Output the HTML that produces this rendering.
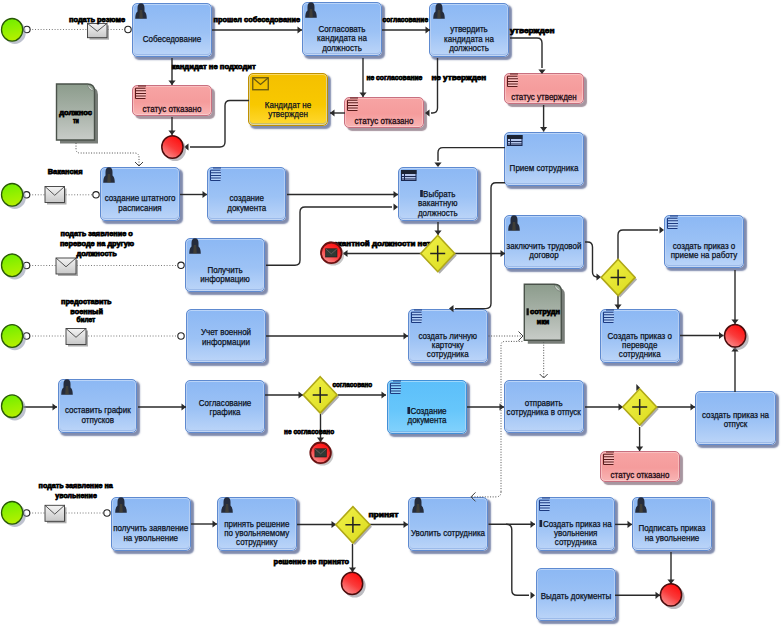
<!DOCTYPE html>
<html><head><meta charset="utf-8">
<style>
html,body{margin:0;padding:0;background:#fff;}
body{width:782px;height:630px;position:relative;overflow:hidden;font-family:"Liberation Sans",sans-serif;}
svg.main{position:absolute;left:0;top:0;}
.lbt{font-family:"Liberation Sans",sans-serif;font-size:7.5px;font-weight:bold;fill:#000;stroke:#000;stroke-width:0.75px;}
.t{position:absolute;box-sizing:border-box;border:1px solid #5e8ad0;border-radius:5px;
  box-shadow:inset 0 0 0 1px rgba(255,255,255,0.4), inset 0 -1px 0 1px rgba(100,140,210,0.35), 2.5px 2.5px 1.5px rgba(85,100,145,0.75);}
.t.b{background:linear-gradient(#8cb8f4 0%,#9cc2f5 55%,#bcd5f8 100%);}
.t.r{background:linear-gradient(#f7a4a4 0%,#f59c9c 55%,#f8b4b4 100%);border-color:#c87080;box-shadow:inset 0 0 0 1px rgba(255,255,255,0.3), 3px 3px 1px rgba(130,105,120,0.7);}
.t.r .tx{color:#200810;-webkit-text-stroke:0.3px #200810;}
.t.y{background:linear-gradient(#f4c000 0%,#f8c800 60%,#ffd830 100%);border-color:#c09000;}
.t.c{background:linear-gradient(#5cbffa 0%,#66c6fb 55%,#82d2fc 100%);border-color:#4090d8;}
.t .ic{position:absolute;}
.bx{display:inline-block;width:2.6px;height:7px;background:#1a2440;margin-right:0.8px;vertical-align:-0.5px;}
.tx{position:absolute;left:-10px;right:-10px;text-align:center;font-size:9px;line-height:9.4px;color:#0a1020;white-space:nowrap;transform:scaleX(0.89);-webkit-text-stroke:0.25px #0a1020;}
.lb{position:absolute;width:120px;text-align:center;font-size:7.5px;font-weight:bold;line-height:9.6px;color:#000;white-space:nowrap;transform:scaleX(0.87);-webkit-text-stroke:0.55px #000;}
</style></head><body>
<div class="t b" style="left:131.5px;top:2.7px;width:80px;height:54.5px"><svg class="ic" width="12" height="16" viewBox="0 0 12 16" style="left:2.5px;top:-1px"><path d="M2.5,5 Q2.5,0.3 6,0.3 Q9.5,0.3 9.5,5 L9.5,8.4 Q11.7,9.8 11.8,15.7 L0.2,15.7 Q0.3,9.8 2.5,8.4 Z" fill="#252c3c"/><path d="M4.8,7 H7.2 L7.8,15.5 H4.2 Z" fill="#6a5a30" opacity="0.4"/></svg><div class="tx" style="top:31.0px">Собеседование</div></div>
<div class="t b" style="left:301.7px;top:2.4px;width:80px;height:54px"><svg class="ic" width="12" height="16" viewBox="0 0 12 16" style="left:2.5px;top:-1px"><path d="M2.5,5 Q2.5,0.3 6,0.3 Q9.5,0.3 9.5,5 L9.5,8.4 Q11.7,9.8 11.8,15.7 L0.2,15.7 Q0.3,9.8 2.5,8.4 Z" fill="#252c3c"/><path d="M4.8,7 H7.2 L7.8,15.5 H4.2 Z" fill="#6a5a30" opacity="0.4"/></svg><div class="tx" style="top:21.6px">Согласовать<br>кандидата на<br>должность</div></div>
<div class="t b" style="left:429.3px;top:2.6px;width:80px;height:54px"><svg class="ic" width="12" height="16" viewBox="0 0 12 16" style="left:2.5px;top:-1px"><path d="M2.5,5 Q2.5,0.3 6,0.3 Q9.5,0.3 9.5,5 L9.5,8.4 Q11.7,9.8 11.8,15.7 L0.2,15.7 Q0.3,9.8 2.5,8.4 Z" fill="#252c3c"/><path d="M4.8,7 H7.2 L7.8,15.5 H4.2 Z" fill="#6a5a30" opacity="0.4"/></svg><div class="tx" style="top:21.6px">утвердить<br>кандидата на<br>должность</div></div>
<div class="t r" style="left:504.2px;top:73.3px;width:80px;height:31px"><svg class="ic" width="15" height="15" viewBox="0 0 15 15" style="left:0px;top:-1px"><path d="M2.5,3 H12.5 Q13.5,8 12.5,13.6 H2.5 Z" fill="#ffffff" fill-opacity="0.3"/><path d="M5,1 H13 M2.5,3.2 H12.5 M2.5,5.8 H13 M2.5,8.4 H13 M2.5,11 H12.8 M2.5,13.5 H12.5 M2.5,3.2 V13.5" fill="none" stroke="#5a1a1a" stroke-width="1.05"/></svg><div class="tx" style="top:19.0px">статус утвержден</div></div>
<div class="t r" style="left:131.6px;top:85.0px;width:80px;height:31px"><svg class="ic" width="15" height="15" viewBox="0 0 15 15" style="left:0px;top:-1px"><path d="M2.5,3 H12.5 Q13.5,8 12.5,13.6 H2.5 Z" fill="#ffffff" fill-opacity="0.3"/><path d="M5,1 H13 M2.5,3.2 H12.5 M2.5,5.8 H13 M2.5,8.4 H13 M2.5,11 H12.8 M2.5,13.5 H12.5 M2.5,3.2 V13.5" fill="none" stroke="#5a1a1a" stroke-width="1.05"/></svg><div class="tx" style="top:19.0px">статус отказано</div></div>
<div class="t y" style="left:248.3px;top:73.3px;width:80px;height:53px"><svg class="ic" width="17" height="14" viewBox="0 0 17 14" style="left:3px;top:3px"><rect x="0.75" y="0.75" width="15.5" height="12" fill="none" stroke="#6a5a10" stroke-width="1.3"/><path d="M1,1 L8.5,7.5 L16,1" fill="none" stroke="#6a5a10" stroke-width="1.3"/></svg><div class="tx" style="top:26.3px">Кандидат не<br>утвержден</div></div>
<div class="t r" style="left:344.3px;top:96.5px;width:80px;height:31px"><svg class="ic" width="15" height="15" viewBox="0 0 15 15" style="left:0px;top:-1px"><path d="M2.5,3 H12.5 Q13.5,8 12.5,13.6 H2.5 Z" fill="#ffffff" fill-opacity="0.3"/><path d="M5,1 H13 M2.5,3.2 H12.5 M2.5,5.8 H13 M2.5,8.4 H13 M2.5,11 H12.8 M2.5,13.5 H12.5 M2.5,3.2 V13.5" fill="none" stroke="#5a1a1a" stroke-width="1.05"/></svg><div class="tx" style="top:19.0px">статус отказано</div></div>
<div class="t b" style="left:99.6px;top:167.0px;width:80px;height:54px"><svg class="ic" width="12" height="16" viewBox="0 0 12 16" style="left:2.5px;top:-1px"><path d="M2.5,5 Q2.5,0.3 6,0.3 Q9.5,0.3 9.5,5 L9.5,8.4 Q11.7,9.8 11.8,15.7 L0.2,15.7 Q0.3,9.8 2.5,8.4 Z" fill="#252c3c"/><path d="M4.8,7 H7.2 L7.8,15.5 H4.2 Z" fill="#6a5a30" opacity="0.4"/></svg><div class="tx" style="top:26.3px">создание штатного<br>расписания</div></div>
<div class="t b" style="left:206.6px;top:167.0px;width:79.5px;height:53.5px"><svg class="ic" width="15" height="15" viewBox="0 0 15 15" style="left:0px;top:-1px"><path d="M2.5,3 H12.5 Q13.5,8 12.5,13.6 H2.5 Z" fill="#ffffff" fill-opacity="0.3"/><path d="M5,1 H13 M2.5,3.2 H12.5 M2.5,5.8 H13 M2.5,8.4 H13 M2.5,11 H12.8 M2.5,13.5 H12.5 M2.5,3.2 V13.5" fill="none" stroke="#1c3a80" stroke-width="1.05"/></svg><div class="tx" style="top:26.3px">создание<br>документа</div></div>
<div class="t b" style="left:398.2px;top:167.2px;width:79.5px;height:54px"><svg class="ic" width="16" height="12" viewBox="0 0 16 12" style="left:2px;top:2px"><rect x="0.5" y="0.5" width="14.5" height="10" fill="#b4c6ec" stroke="#1a2850" stroke-width="1"/><rect x="0" y="0" width="15.5" height="4" fill="#1c2434"/><path d="M0.5,6.5 H15 M0.5,9 H15 M3.5,4 V10.5" stroke="#1a2850" stroke-width="1"/></svg><div class="tx" style="top:21.6px"><i class="bx"></i>Выбрать<br>вакантную<br>должность</div></div>
<div class="t b" style="left:504.2px;top:132.0px;width:80px;height:53.5px"><svg class="ic" width="16" height="12" viewBox="0 0 16 12" style="left:2px;top:2px"><rect x="0.5" y="0.5" width="14.5" height="10" fill="#b4c6ec" stroke="#1a2850" stroke-width="1"/><rect x="0" y="0" width="15.5" height="4" fill="#1c2434"/><path d="M0.5,6.5 H15 M0.5,9 H15 M3.5,4 V10.5" stroke="#1a2850" stroke-width="1"/></svg><div class="tx" style="top:31.0px">Прием сотрудника</div></div>
<div class="t b" style="left:504.2px;top:214.7px;width:80px;height:54px"><svg class="ic" width="12" height="16" viewBox="0 0 12 16" style="left:2.5px;top:-1px"><path d="M2.5,5 Q2.5,0.3 6,0.3 Q9.5,0.3 9.5,5 L9.5,8.4 Q11.7,9.8 11.8,15.7 L0.2,15.7 Q0.3,9.8 2.5,8.4 Z" fill="#252c3c"/><path d="M4.8,7 H7.2 L7.8,15.5 H4.2 Z" fill="#6a5a30" opacity="0.4"/></svg><div class="tx" style="top:26.3px">заключить трудовой<br>договор</div></div>
<div class="t b" style="left:663.7px;top:214.7px;width:80px;height:53.5px"><svg class="ic" width="15" height="15" viewBox="0 0 15 15" style="left:0px;top:-1px"><path d="M2.5,3 H12.5 Q13.5,8 12.5,13.6 H2.5 Z" fill="#ffffff" fill-opacity="0.3"/><path d="M5,1 H13 M2.5,3.2 H12.5 M2.5,5.8 H13 M2.5,8.4 H13 M2.5,11 H12.8 M2.5,13.5 H12.5 M2.5,3.2 V13.5" fill="none" stroke="#1c3a80" stroke-width="1.05"/></svg><div class="tx" style="top:26.3px">создать приказ о<br>приеме на работу</div></div>
<div class="t b" style="left:185.2px;top:238.4px;width:80px;height:53.5px"><svg class="ic" width="12" height="16" viewBox="0 0 12 16" style="left:2.5px;top:-1px"><path d="M2.5,5 Q2.5,0.3 6,0.3 Q9.5,0.3 9.5,5 L9.5,8.4 Q11.7,9.8 11.8,15.7 L0.2,15.7 Q0.3,9.8 2.5,8.4 Z" fill="#252c3c"/><path d="M4.8,7 H7.2 L7.8,15.5 H4.2 Z" fill="#6a5a30" opacity="0.4"/></svg><div class="tx" style="top:26.3px">Получить<br>информацию</div></div>
<div class="t b" style="left:185.7px;top:309.2px;width:80px;height:53.5px"><div class="tx" style="top:18.0px">Учет военной<br>информации</div></div>
<div class="t b" style="left:408.2px;top:309.0px;width:79.5px;height:53.5px"><svg class="ic" width="15" height="15" viewBox="0 0 15 15" style="left:0px;top:-1px"><path d="M2.5,3 H12.5 Q13.5,8 12.5,13.6 H2.5 Z" fill="#ffffff" fill-opacity="0.3"/><path d="M5,1 H13 M2.5,3.2 H12.5 M2.5,5.8 H13 M2.5,8.4 H13 M2.5,11 H12.8 M2.5,13.5 H12.5 M2.5,3.2 V13.5" fill="none" stroke="#1c3a80" stroke-width="1.05"/></svg><div class="tx" style="top:21.6px">создать личную<br>карточку<br>сотрудника</div></div>
<div class="t b" style="left:600.0px;top:309.0px;width:79.5px;height:53.5px"><svg class="ic" width="15" height="15" viewBox="0 0 15 15" style="left:0px;top:-1px"><path d="M2.5,3 H12.5 Q13.5,8 12.5,13.6 H2.5 Z" fill="#ffffff" fill-opacity="0.3"/><path d="M5,1 H13 M2.5,3.2 H12.5 M2.5,5.8 H13 M2.5,8.4 H13 M2.5,11 H12.8 M2.5,13.5 H12.5 M2.5,3.2 V13.5" fill="none" stroke="#1c3a80" stroke-width="1.05"/></svg><div class="tx" style="top:21.6px">Создать приказ о<br>переводе<br>сотрудника</div></div>
<div class="t b" style="left:57.7px;top:379.2px;width:79.6px;height:54px"><svg class="ic" width="12" height="16" viewBox="0 0 12 16" style="left:2.5px;top:-1px"><path d="M2.5,5 Q2.5,0.3 6,0.3 Q9.5,0.3 9.5,5 L9.5,8.4 Q11.7,9.8 11.8,15.7 L0.2,15.7 Q0.3,9.8 2.5,8.4 Z" fill="#252c3c"/><path d="M4.8,7 H7.2 L7.8,15.5 H4.2 Z" fill="#6a5a30" opacity="0.4"/></svg><div class="tx" style="top:26.3px">составить график<br>отпусков</div></div>
<div class="t b" style="left:185.2px;top:379.7px;width:80px;height:53.5px"><div class="tx" style="top:18.0px">Согласование<br>графика</div></div>
<div class="t c" style="left:387.4px;top:379.6px;width:80px;height:54px"><svg class="ic" width="15" height="15" viewBox="0 0 15 15" style="left:0px;top:-1px"><path d="M2.5,3 H12.5 Q13.5,8 12.5,13.6 H2.5 Z" fill="#ffffff" fill-opacity="0.3"/><path d="M5,1 H13 M2.5,3.2 H12.5 M2.5,5.8 H13 M2.5,8.4 H13 M2.5,11 H12.8 M2.5,13.5 H12.5 M2.5,3.2 V13.5" fill="none" stroke="#1c3a80" stroke-width="1.05"/></svg><div class="tx" style="top:26.3px"><i class="bx"></i>Создание<br>документа</div></div>
<div class="t b" style="left:504.0px;top:379.7px;width:79.5px;height:53.5px"><div class="tx" style="top:18.0px">отправить<br>сотрудника в отпуск</div></div>
<div class="t b" style="left:694.8px;top:391.3px;width:81px;height:54px"><div class="tx" style="top:18.3px">создать приказ на<br>отпуск</div></div>
<div class="t r" style="left:599.9px;top:450.5px;width:80px;height:31px"><svg class="ic" width="15" height="15" viewBox="0 0 15 15" style="left:0px;top:-1px"><path d="M2.5,3 H12.5 Q13.5,8 12.5,13.6 H2.5 Z" fill="#ffffff" fill-opacity="0.3"/><path d="M5,1 H13 M2.5,3.2 H12.5 M2.5,5.8 H13 M2.5,8.4 H13 M2.5,11 H12.8 M2.5,13.5 H12.5 M2.5,3.2 V13.5" fill="none" stroke="#5a1a1a" stroke-width="1.05"/></svg><div class="tx" style="top:19.0px">статус отказано</div></div>
<div class="t b" style="left:111.2px;top:497.0px;width:79.5px;height:53.7px"><svg class="ic" width="12" height="16" viewBox="0 0 12 16" style="left:2.5px;top:-1px"><path d="M2.5,5 Q2.5,0.3 6,0.3 Q9.5,0.3 9.5,5 L9.5,8.4 Q11.7,9.8 11.8,15.7 L0.2,15.7 Q0.3,9.8 2.5,8.4 Z" fill="#252c3c"/><path d="M4.8,7 H7.2 L7.8,15.5 H4.2 Z" fill="#6a5a30" opacity="0.4"/></svg><div class="tx" style="top:26.3px">получить заявление<br>на увольнение</div></div>
<div class="t b" style="left:217.2px;top:497.0px;width:79.5px;height:53.7px"><svg class="ic" width="12" height="16" viewBox="0 0 12 16" style="left:2.5px;top:-1px"><path d="M2.5,5 Q2.5,0.3 6,0.3 Q9.5,0.3 9.5,5 L9.5,8.4 Q11.7,9.8 11.8,15.7 L0.2,15.7 Q0.3,9.8 2.5,8.4 Z" fill="#252c3c"/><path d="M4.8,7 H7.2 L7.8,15.5 H4.2 Z" fill="#6a5a30" opacity="0.4"/></svg><div class="tx" style="top:21.6px">принять решение<br>по увольняемому<br>сотруднику</div></div>
<div class="t b" style="left:408.2px;top:497.0px;width:80px;height:53.5px"><svg class="ic" width="12" height="16" viewBox="0 0 12 16" style="left:2.5px;top:-1px"><path d="M2.5,5 Q2.5,0.3 6,0.3 Q9.5,0.3 9.5,5 L9.5,8.4 Q11.7,9.8 11.8,15.7 L0.2,15.7 Q0.3,9.8 2.5,8.4 Z" fill="#252c3c"/><path d="M4.8,7 H7.2 L7.8,15.5 H4.2 Z" fill="#6a5a30" opacity="0.4"/></svg><div class="tx" style="top:31.0px">Уволить сотрудника</div></div>
<div class="t b" style="left:535.9px;top:497.0px;width:79.5px;height:53.7px"><svg class="ic" width="15" height="15" viewBox="0 0 15 15" style="left:0px;top:-1px"><path d="M2.5,3 H12.5 Q13.5,8 12.5,13.6 H2.5 Z" fill="#ffffff" fill-opacity="0.3"/><path d="M5,1 H13 M2.5,3.2 H12.5 M2.5,5.8 H13 M2.5,8.4 H13 M2.5,11 H12.8 M2.5,13.5 H12.5 M2.5,3.2 V13.5" fill="none" stroke="#1c3a80" stroke-width="1.05"/></svg><div class="tx" style="top:21.6px"><i class="bx"></i>Создать приказ на<br>увольнения<br>сотрудника</div></div>
<div class="t b" style="left:631.6px;top:497.0px;width:80px;height:53.7px"><svg class="ic" width="12" height="16" viewBox="0 0 12 16" style="left:2.5px;top:-1px"><path d="M2.5,5 Q2.5,0.3 6,0.3 Q9.5,0.3 9.5,5 L9.5,8.4 Q11.7,9.8 11.8,15.7 L0.2,15.7 Q0.3,9.8 2.5,8.4 Z" fill="#252c3c"/><path d="M4.8,7 H7.2 L7.8,15.5 H4.2 Z" fill="#6a5a30" opacity="0.4"/></svg><div class="tx" style="top:26.3px">Подписать приказ<br>на увольнение</div></div>
<div class="t b" style="left:535.9px;top:568.3px;width:80px;height:53px"><div class="tx" style="top:22.5px">Выдать документы</div></div>
<svg class="main" width="782" height="630" viewBox="0 0 782 630">
<defs>
<linearGradient id="greeng" x1="0.4" y1="0" x2="0.6" y2="1"><stop offset="0" stop-color="#70ee00"/><stop offset="0.55" stop-color="#98f000"/><stop offset="1" stop-color="#b8f000"/></linearGradient>
<linearGradient id="redg" x1="0.8" y1="0.1" x2="0.25" y2="0.95"><stop offset="0" stop-color="#ff1010"/><stop offset="0.5" stop-color="#fa3a3a"/><stop offset="1" stop-color="#f88a8a"/></linearGradient>
<linearGradient id="yelg" x1="0" y1="0" x2="1" y2="1"><stop offset="0" stop-color="#f2f24a"/><stop offset="1" stop-color="#dada1c"/></linearGradient>
<linearGradient id="envg" x1="0" y1="0" x2="0" y2="1"><stop offset="0" stop-color="#f4f4f4"/><stop offset="1" stop-color="#c8c8c8"/></linearGradient>
<linearGradient id="docg" x1="0" y1="0" x2="0" y2="1"><stop offset="0" stop-color="#8c9c8c"/><stop offset="0.5" stop-color="#a8b2a8"/><stop offset="1" stop-color="#c8ccc8"/></linearGradient>
</defs>
<path d="M212,30 L302,30" fill="none" stroke="#2a2a2a" stroke-width="1.4"/>
<polygon points="302,30 297.5,26.4 297.5,33.6" fill="#2a2a2a"/>
<path d="M382,30 L430,30" fill="none" stroke="#2a2a2a" stroke-width="1.4"/>
<polygon points="430,30 425.5,26.4 425.5,33.6" fill="#2a2a2a"/>
<path d="M510,38 H537 Q542,38 542,43 V68" fill="none" stroke="#2a2a2a" stroke-width="1.4"/>
<polygon points="542,74 538.4,69.5 545.6,69.5" fill="#2a2a2a"/>
<path d="M172,58 L172,85" fill="none" stroke="#2a2a2a" stroke-width="1.4"/>
<polygon points="172,85 168.4,80.5 175.6,80.5" fill="#2a2a2a"/>
<path d="M172,117 L172,135" fill="none" stroke="#2a2a2a" stroke-width="1.4"/>
<polygon points="172,135 168.4,130.5 175.6,130.5" fill="#2a2a2a"/>
<path d="M249,100.5 H230 Q225,100.5 225,105.5 V142 Q225,147 220,147 H190" fill="none" stroke="#2a2a2a" stroke-width="1.4"/>
<polygon points="184,147 188.5,143.4 188.5,150.6" fill="#2a2a2a"/>
<path d="M345,113 L330,113" fill="none" stroke="#2a2a2a" stroke-width="1.4"/>
<polygon points="330,113 334.5,109.4 334.5,116.6" fill="#2a2a2a"/>
<path d="M363,58 L363,97" fill="none" stroke="#2a2a2a" stroke-width="1.4"/>
<polygon points="363,97 359.4,92.5 366.6,92.5" fill="#2a2a2a"/>
<path d="M437.5,58 V108 Q437.5,113 432.5,113 H431" fill="none" stroke="#2a2a2a" stroke-width="1.4"/>
<polygon points="425,113 429.5,109.4 429.5,116.6" fill="#2a2a2a"/>
<path d="M180,194.5 L207,194.5" fill="none" stroke="#2a2a2a" stroke-width="1.4"/>
<polygon points="207,194.5 202.5,190.9 202.5,198.1" fill="#2a2a2a"/>
<path d="M287,194.5 L398,194.5" fill="none" stroke="#2a2a2a" stroke-width="1.4"/>
<polygon points="398,194.5 393.5,190.9 393.5,198.1" fill="#2a2a2a"/>
<path d="M266,265.3 H295 Q300,265.3 300,260.3 V212 Q300,207 305,207 H392" fill="none" stroke="#2a2a2a" stroke-width="1.4"/>
<polygon points="398,207 393.5,203.4 393.5,210.6" fill="#2a2a2a"/>
<path d="M505,147.6 H443 Q438,147.6 438,152.6 V161" fill="none" stroke="#2a2a2a" stroke-width="1.4"/>
<polygon points="438,167 434.4,162.5 441.6,162.5" fill="#2a2a2a"/>
<path d="M543.6,105 L543.6,131.5" fill="none" stroke="#2a2a2a" stroke-width="1.4"/>
<polygon points="543.6,131.5 540.0,127.0 547.2,127.0" fill="#2a2a2a"/>
<path d="M438,222 L438,235" fill="none" stroke="#2a2a2a" stroke-width="1.4"/>
<polygon points="438,235 434.4,230.5 441.6,230.5" fill="#2a2a2a"/>
<path d="M421,253.5 L343,253.5" fill="none" stroke="#2a2a2a" stroke-width="1.4"/>
<polygon points="343,253.5 347.5,249.9 347.5,257.1" fill="#2a2a2a"/>
<path d="M455,253.5 L505,253.5" fill="none" stroke="#2a2a2a" stroke-width="1.4"/>
<polygon points="505,253.5 500.5,249.9 500.5,257.1" fill="#2a2a2a"/>
<path d="M505,182.7 H496 Q491,182.7 491,187.7 V303.6 Q491,308.6 486,308.6 H455" fill="none" stroke="#2a2a2a" stroke-width="1.4"/>
<polygon points="449,308.6 453.5,305.0 453.5,312.20000000000005" fill="#2a2a2a"/>
<path d="M585,242 H587.5 Q592.5,242 592.5,247 V272 Q592.5,277 597.5,277 H596" fill="none" stroke="#2a2a2a" stroke-width="1.4"/>
<polygon points="601,277 596.5,273.4 596.5,280.6" fill="#2a2a2a"/>
<path d="M618,259 V235 Q618,230 623,230 H658" fill="none" stroke="#2a2a2a" stroke-width="1.4"/>
<polygon points="664,230 659.5,226.4 659.5,233.6" fill="#2a2a2a"/>
<path d="M618,295 L618,309" fill="none" stroke="#2a2a2a" stroke-width="1.4"/>
<polygon points="618,309 614.4,304.5 621.6,304.5" fill="#2a2a2a"/>
<path d="M735,270 L735,324" fill="none" stroke="#2a2a2a" stroke-width="1.4"/>
<polygon points="735,324 731.4,319.5 738.6,319.5" fill="#2a2a2a"/>
<path d="M680,335.5 L723.5,335.5" fill="none" stroke="#2a2a2a" stroke-width="1.4"/>
<polygon points="723.5,335.5 719.0,331.9 719.0,339.1" fill="#2a2a2a"/>
<path d="M735,392 L735,347" fill="none" stroke="#2a2a2a" stroke-width="1.4"/>
<polygon points="735,347 731.4,351.5 738.6,351.5" fill="#2a2a2a"/>
<path d="M266,336 L408,336" fill="none" stroke="#2a2a2a" stroke-width="1.4"/>
<polygon points="408,336 403.5,332.4 403.5,339.6" fill="#2a2a2a"/>
<path d="M23.5,407 L57,407" fill="none" stroke="#2a2a2a" stroke-width="1.4"/>
<polygon points="57,407 52.5,403.4 52.5,410.6" fill="#2a2a2a"/>
<path d="M138,407 L186,407" fill="none" stroke="#2a2a2a" stroke-width="1.4"/>
<polygon points="186,407 181.5,403.4 181.5,410.6" fill="#2a2a2a"/>
<path d="M265,395 L303,395" fill="none" stroke="#2a2a2a" stroke-width="1.4"/>
<polygon points="303,395 298.5,391.4 298.5,398.6" fill="#2a2a2a"/>
<path d="M338,395 L386,395" fill="none" stroke="#2a2a2a" stroke-width="1.4"/>
<polygon points="386,395 381.5,391.4 381.5,398.6" fill="#2a2a2a"/>
<path d="M320.5,414 L320.5,442" fill="none" stroke="#2a2a2a" stroke-width="1.4"/>
<polygon points="320.5,442 316.9,437.5 324.1,437.5" fill="#2a2a2a"/>
<path d="M467,407 L504,407" fill="none" stroke="#2a2a2a" stroke-width="1.4"/>
<polygon points="504,407 499.5,403.4 499.5,410.6" fill="#2a2a2a"/>
<path d="M585,407 L623,407" fill="none" stroke="#2a2a2a" stroke-width="1.4"/>
<polygon points="623,407 618.5,403.4 618.5,410.6" fill="#2a2a2a"/>
<path d="M656,407 L695,407" fill="none" stroke="#2a2a2a" stroke-width="1.4"/>
<polygon points="695,407 690.5,403.4 690.5,410.6" fill="#2a2a2a"/>
<path d="M639.6,427 L639.6,451" fill="none" stroke="#2a2a2a" stroke-width="1.4"/>
<polygon points="639.6,451 636.0,446.5 643.2,446.5" fill="#2a2a2a"/>
<path d="M191,524 L217,524" fill="none" stroke="#2a2a2a" stroke-width="1.4"/>
<polygon points="217,524 212.5,520.4 212.5,527.6" fill="#2a2a2a"/>
<path d="M297,524.5 L336,524.5" fill="none" stroke="#2a2a2a" stroke-width="1.4"/>
<polygon points="336,524.5 331.5,520.9 331.5,528.1" fill="#2a2a2a"/>
<path d="M370,524.5 L408,524.5" fill="none" stroke="#2a2a2a" stroke-width="1.4"/>
<polygon points="408,524.5 403.5,520.9 403.5,528.1" fill="#2a2a2a"/>
<path d="M352.5,544 L352.5,572" fill="none" stroke="#2a2a2a" stroke-width="1.4"/>
<polygon points="352.5,572 348.9,567.5 356.1,567.5" fill="#2a2a2a"/>
<path d="M488.5,524.3 L535,524.3" fill="none" stroke="#2a2a2a" stroke-width="1.4"/>
<polygon points="535,524.3 530.5,520.6999999999999 530.5,527.9" fill="#2a2a2a"/>
<path d="M506,524.3 Q511.8,524.3 511.8,530 V590 Q511.8,595.3 517,595.3 H529" fill="none" stroke="#2a2a2a" stroke-width="1.4"/>
<polygon points="535,595.3 530.5,591.6999999999999 530.5,598.9" fill="#2a2a2a"/>
<path d="M615,524.4 L632,524.4" fill="none" stroke="#2a2a2a" stroke-width="1.4"/>
<polygon points="632,524.4 627.5,520.8 627.5,528.0" fill="#2a2a2a"/>
<path d="M671,552 L671,584" fill="none" stroke="#2a2a2a" stroke-width="1.4"/>
<polygon points="671,584 667.4,579.5 674.6,579.5" fill="#2a2a2a"/>
<path d="M615,595.3 L660,595.3" fill="none" stroke="#2a2a2a" stroke-width="1.4"/>
<polygon points="660,595.3 655.5,591.6999999999999 655.5,598.9" fill="#2a2a2a"/>
<polygon points="636.3,384 636.3,391 640,387.8" fill="#2a2a2a"/>
<path d="M26.6,29.5 H128" fill="none" stroke="#6a6a6a" stroke-width="0.9" stroke-dasharray="1 1.8"/>
<path d="M26.6,194.8 H96" fill="none" stroke="#6a6a6a" stroke-width="0.9" stroke-dasharray="1 1.8"/>
<path d="M26.6,265.5 H181" fill="none" stroke="#6a6a6a" stroke-width="0.9" stroke-dasharray="1 1.8"/>
<path d="M26.6,336 H181" fill="none" stroke="#6a6a6a" stroke-width="0.9" stroke-dasharray="1 1.8"/>
<path d="M26.6,513 H107" fill="none" stroke="#6a6a6a" stroke-width="0.9" stroke-dasharray="1 1.8"/>
<path d="M76,143 V149 Q76,153 80,153 H134.5 Q139,153 139,157.5 V166" fill="none" stroke="#505050" stroke-width="1" stroke-dasharray="1 1.6"/>
<path d="M135,162 L139,166 L143,162" fill="none" stroke="#404040" stroke-width="1"/>
<path d="M488.5,336 H523" fill="none" stroke="#505050" stroke-width="1" stroke-dasharray="1 1.6"/>
<path d="M518.5,331.5 L523,336 L518.5,340.5" fill="none" stroke="#404040" stroke-width="1"/>
<path d="M501,491.7 V345.4 Q501,341.4 505,341.4 H523" fill="none" stroke="#505050" stroke-width="1" stroke-dasharray="1 1.6"/>
<path d="M501,491.7 Q501,496.9 496,496.9 H471" fill="none" stroke="#505050" stroke-width="1" stroke-dasharray="1 1.6"/>
<path d="M475.5,492.4 L471,496.9 L475.5,501.4" fill="none" stroke="#404040" stroke-width="1"/>
<path d="M543.7,339.5 V378" fill="none" stroke="#505050" stroke-width="1" stroke-dasharray="1 1.6"/>
<path d="M539.7,374 L543.7,378 L547.7,374" fill="none" stroke="#404040" stroke-width="1"/>
<path d="M60.0,87.5 H91.0 Q98.0,87.5 98.0,94.5 V143.5 H60.0 Z" fill="#606660" opacity="0.85"/>
<path d="M56.5,84 H87.5 Q94.5,84 94.5,91 V140 H56.5 Z" fill="url(#docg)" stroke="#4a524a" stroke-width="1.4"/>
<path d="M87.5,84.7 Q88.5,90 93.8,91" fill="#d8dcd8" stroke="#6a726a" stroke-width="0.7"/>
<path d="M527.8,287.8 H557.8 Q564.8,287.8 564.8,294.8 V343.8 H527.8 Z" fill="#606660" opacity="0.85"/>
<path d="M524.3,284.3 H554.3 Q561.3,284.3 561.3,291.3 V340.3 H524.3 Z" fill="url(#docg)" stroke="#4a524a" stroke-width="1.4"/>
<path d="M554.3,285.0 Q555.3,290.3 560.5999999999999,291.3" fill="#d8dcd8" stroke="#6a726a" stroke-width="0.7"/>
<rect x="89.5" y="25.4" width="19.5" height="14.3" fill="#8a8a8a" opacity="0.7"/>
<rect x="87.5" y="23.4" width="19.5" height="14.3" fill="url(#envg)" stroke="#3a3a3a" stroke-width="0.9"/>
<path d="M87.5,23.4 L97.25,31.265 L107.0,23.4" fill="none" stroke="#444" stroke-width="0.9"/>
<rect x="47" y="188.5" width="19.5" height="16" fill="#8a8a8a" opacity="0.7"/>
<rect x="45" y="186.5" width="19.5" height="16" fill="url(#envg)" stroke="#3a3a3a" stroke-width="0.9"/>
<path d="M45,186.5 L54.75,195.3 L64.5,186.5" fill="none" stroke="#444" stroke-width="0.9"/>
<rect x="58" y="260" width="20" height="16" fill="#8a8a8a" opacity="0.7"/>
<rect x="56" y="258" width="20" height="16" fill="url(#envg)" stroke="#3a3a3a" stroke-width="0.9"/>
<path d="M56,258 L66.0,266.8 L76,258" fill="none" stroke="#444" stroke-width="0.9"/>
<rect x="68" y="330.5" width="20" height="16" fill="#8a8a8a" opacity="0.7"/>
<rect x="66" y="328.5" width="20" height="16" fill="url(#envg)" stroke="#3a3a3a" stroke-width="0.9"/>
<path d="M66,328.5 L76.0,337.3 L86,328.5" fill="none" stroke="#444" stroke-width="0.9"/>
<rect x="47" y="507.3" width="19.5" height="16" fill="#8a8a8a" opacity="0.7"/>
<rect x="45" y="505.3" width="19.5" height="16" fill="url(#envg)" stroke="#3a3a3a" stroke-width="0.9"/>
<path d="M45,505.3 L54.75,514.1 L64.5,505.3" fill="none" stroke="#444" stroke-width="0.9"/>
<text class="lbt" x="69.0" y="21.7" textLength="56.2" lengthAdjust="spacingAndGlyphs">подать резюме</text>
<text class="lbt" x="213.60000000000002" y="21.6" textLength="86.6" lengthAdjust="spacingAndGlyphs">прошел собеседование</text>
<text class="lbt" x="382.6" y="21.7" textLength="45.5" lengthAdjust="spacingAndGlyphs">согласование</text>
<text class="lbt" x="510.1" y="33.4" textLength="44.4" lengthAdjust="spacingAndGlyphs">утвержден</text>
<text class="lbt" x="171.70000000000002" y="69.0" textLength="84.0" lengthAdjust="spacingAndGlyphs">кандидат не подходит</text>
<text class="lbt" x="366.40000000000003" y="80.4" textLength="56.0" lengthAdjust="spacingAndGlyphs">не согласование</text>
<text class="lbt" x="431.40000000000003" y="80.4" textLength="54.9" lengthAdjust="spacingAndGlyphs">не утвержден</text>
<text class="lbt" x="47.699999999999996" y="174.3" textLength="34.8" lengthAdjust="spacingAndGlyphs">Вакансия</text>
<text class="lbt" x="60.5" y="236.0" textLength="72.3" lengthAdjust="spacingAndGlyphs">подать заявление о</text>
<text class="lbt" x="59.9" y="245.5" textLength="74.2" lengthAdjust="spacingAndGlyphs">переводе на другую</text>
<text class="lbt" x="76.5" y="255.7" textLength="40.3" lengthAdjust="spacingAndGlyphs">должность</text>
<text class="lbt" x="328.6" y="246.0" textLength="102.1" lengthAdjust="spacingAndGlyphs">вакантной должности нет</text>
<text class="lbt" x="61.0" y="304.3" textLength="50.6" lengthAdjust="spacingAndGlyphs">предоставить</text>
<text class="lbt" x="70.3" y="313.5" textLength="32.6" lengthAdjust="spacingAndGlyphs">военный</text>
<text class="lbt" x="76.39999999999999" y="322.0" textLength="18.8" lengthAdjust="spacingAndGlyphs">билет</text>
<text class="lbt" x="332.40000000000003" y="386.9" textLength="39.8" lengthAdjust="spacingAndGlyphs">согласовано</text>
<text class="lbt" x="284.1" y="434.0" textLength="50.0" lengthAdjust="spacingAndGlyphs">не согласовано</text>
<text class="lbt" x="38.599999999999994" y="488.3" textLength="74.2" lengthAdjust="spacingAndGlyphs">подать заявление на</text>
<text class="lbt" x="55.3" y="497.9" textLength="41.5" lengthAdjust="spacingAndGlyphs">увольнение</text>
<text class="lbt" x="368.40000000000003" y="516.6" textLength="30.1" lengthAdjust="spacingAndGlyphs">принят</text>
<text class="lbt" x="273.6" y="563.6" textLength="75.5" lengthAdjust="spacingAndGlyphs">решение не принято</text>
<text class="lbt" x="59.199999999999996" y="115.1" textLength="32.8" lengthAdjust="spacingAndGlyphs">должнос</text>
<text class="lbt" x="72.89999999999999" y="123.4" textLength="6.0" lengthAdjust="spacingAndGlyphs">ти</text>
<text class="lbt" x="530.0999999999999" y="313.9" textLength="29.8" lengthAdjust="spacingAndGlyphs">сотрудн</text>
<text class="lbt" x="536.6999999999999" y="324.0" textLength="12.5" lengthAdjust="spacingAndGlyphs">ики</text>
<rect x="526.5" y="308.3" width="2.3" height="7" fill="#111"/>
<circle cx="26.9" cy="29.5" r="3.2" fill="#fff" stroke="#222" stroke-width="1.1"/>
<circle cx="128" cy="29.5" r="3.2" fill="#fff" stroke="#222" stroke-width="1.1"/>
<circle cx="26.6" cy="194.8" r="3.2" fill="#fff" stroke="#222" stroke-width="1.1"/>
<circle cx="96" cy="194.8" r="3.2" fill="#fff" stroke="#222" stroke-width="1.1"/>
<circle cx="26.6" cy="265.5" r="3.2" fill="#fff" stroke="#222" stroke-width="1.1"/>
<circle cx="181" cy="265.3" r="3.2" fill="#fff" stroke="#222" stroke-width="1.1"/>
<circle cx="26.6" cy="336" r="3.2" fill="#fff" stroke="#222" stroke-width="1.1"/>
<circle cx="181" cy="336" r="3.2" fill="#fff" stroke="#222" stroke-width="1.1"/>
<circle cx="26.6" cy="513" r="3.2" fill="#fff" stroke="#222" stroke-width="1.1"/>
<circle cx="107" cy="513" r="3.2" fill="#fff" stroke="#222" stroke-width="1.1"/>
<ellipse cx="14.8" cy="32.4" rx="11" ry="11.6" fill="#8890a8" opacity="0.55"/>
<ellipse cx="12.1" cy="29.8" rx="10.6" ry="11.3" fill="url(#greeng)" stroke="#2a5a08" stroke-width="1.3"/>
<ellipse cx="14.8" cy="197.4" rx="11" ry="11.6" fill="#8890a8" opacity="0.55"/>
<ellipse cx="12.1" cy="194.8" rx="10.6" ry="11.3" fill="url(#greeng)" stroke="#2a5a08" stroke-width="1.3"/>
<ellipse cx="14.8" cy="267.90000000000003" rx="11" ry="11.6" fill="#8890a8" opacity="0.55"/>
<ellipse cx="12.1" cy="265.3" rx="10.6" ry="11.3" fill="url(#greeng)" stroke="#2a5a08" stroke-width="1.3"/>
<ellipse cx="14.8" cy="338.6" rx="11" ry="11.6" fill="#8890a8" opacity="0.55"/>
<ellipse cx="12.1" cy="336" rx="10.6" ry="11.3" fill="url(#greeng)" stroke="#2a5a08" stroke-width="1.3"/>
<ellipse cx="14.8" cy="408.8" rx="11" ry="11.6" fill="#8890a8" opacity="0.55"/>
<ellipse cx="12.1" cy="406.2" rx="10.6" ry="11.3" fill="url(#greeng)" stroke="#2a5a08" stroke-width="1.3"/>
<ellipse cx="14.8" cy="515.4" rx="11" ry="11.6" fill="#8890a8" opacity="0.55"/>
<ellipse cx="12.1" cy="512.8" rx="10.6" ry="11.3" fill="url(#greeng)" stroke="#2a5a08" stroke-width="1.3"/>
<ellipse cx="175.0" cy="149.6" rx="11" ry="11.5" fill="#909098" opacity="0.6"/>
<ellipse cx="172.4" cy="147" rx="10.6" ry="11.2" fill="url(#redg)" stroke="#4a0c0c" stroke-width="1.5"/>
<ellipse cx="737.7" cy="338.40000000000003" rx="11" ry="11.5" fill="#909098" opacity="0.6"/>
<ellipse cx="735.1" cy="335.8" rx="10.6" ry="11.2" fill="url(#redg)" stroke="#4a0c0c" stroke-width="1.5"/>
<ellipse cx="354.70000000000005" cy="586.0" rx="11" ry="11.5" fill="#909098" opacity="0.6"/>
<ellipse cx="352.1" cy="583.4" rx="10.6" ry="11.2" fill="url(#redg)" stroke="#4a0c0c" stroke-width="1.5"/>
<ellipse cx="673.6" cy="597.5" rx="11" ry="11.5" fill="#909098" opacity="0.6"/>
<ellipse cx="671" cy="594.9" rx="10.6" ry="11.2" fill="url(#redg)" stroke="#4a0c0c" stroke-width="1.5"/>
<circle cx="333.3" cy="254.8" r="10.8" fill="#a0a0a0" opacity="0.6"/>
<circle cx="331.3" cy="252.8" r="10.3" fill="url(#redg)" stroke="#6a1010" stroke-width="1.8"/>
<rect x="325.6" y="248.8" width="11.4" height="8.2" fill="#303a34" stroke="#1a1a1a" stroke-width="0.6"/>
<path d="M325.6,248.8 L331.3,253.8 L337.0,248.8" fill="none" stroke="#7a6a6a" stroke-width="0.7"/>
<circle cx="322.6" cy="454.8" r="10.8" fill="#a0a0a0" opacity="0.6"/>
<circle cx="320.6" cy="452.8" r="10.3" fill="url(#redg)" stroke="#6a1010" stroke-width="1.8"/>
<rect x="314.90000000000003" y="448.8" width="11.4" height="8.2" fill="#303a34" stroke="#1a1a1a" stroke-width="0.6"/>
<path d="M314.90000000000003,448.8 L320.6,453.8 L326.3,448.8" fill="none" stroke="#7a6a6a" stroke-width="0.7"/>
<polygon points="439.7,237.3 456.7,255.5 439.7,273.7 422.7,255.5" fill="#8c8c8c" opacity="0.7"/>
<polygon points="437.7,235.3 454.7,253.5 437.7,271.7 420.7,253.5" fill="url(#yelg)" stroke="#b0a818" stroke-width="1.6"/>
<path d="M430.2,253.5 H445.2 M437.7,245.5 V261.5" stroke="#222" stroke-width="1.5"/>
<polygon points="620.1,261.2 637.1,279.4 620.1,297.59999999999997 603.1,279.4" fill="#8c8c8c" opacity="0.7"/>
<polygon points="618.1,259.2 635.1,277.4 618.1,295.59999999999997 601.1,277.4" fill="url(#yelg)" stroke="#b0a818" stroke-width="1.6"/>
<path d="M610.6,277.4 H625.6 M618.1,269.4 V285.4" stroke="#222" stroke-width="1.5"/>
<polygon points="322.2,378.7 339.2,396.9 322.2,415.09999999999997 305.2,396.9" fill="#8c8c8c" opacity="0.7"/>
<polygon points="320.2,376.7 337.2,394.9 320.2,413.09999999999997 303.2,394.9" fill="url(#yelg)" stroke="#b0a818" stroke-width="1.6"/>
<path d="M312.7,394.9 H327.7 M320.2,386.9 V402.9" stroke="#222" stroke-width="1.5"/>
<polygon points="641.7,390.8 658.7,409 641.7,427.2 624.7,409" fill="#8c8c8c" opacity="0.7"/>
<polygon points="639.7,388.8 656.7,407 639.7,425.2 622.7,407" fill="url(#yelg)" stroke="#b0a818" stroke-width="1.6"/>
<path d="M632.2,407 H647.2 M639.7,399 V415" stroke="#222" stroke-width="1.5"/>
<polygon points="354.9,508.59999999999997 371.9,526.8 354.9,545.0 337.9,526.8" fill="#8c8c8c" opacity="0.7"/>
<polygon points="352.9,506.59999999999997 369.9,524.8 352.9,543.0 335.9,524.8" fill="url(#yelg)" stroke="#b0a818" stroke-width="1.6"/>
<path d="M345.4,524.8 H360.4 M352.9,516.8 V532.8" stroke="#222" stroke-width="1.5"/>
</svg>


</body></html>
